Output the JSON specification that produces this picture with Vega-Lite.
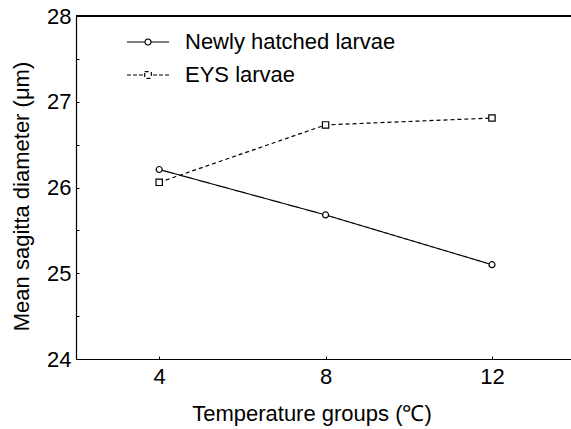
{
  "$schema": "https://vega.github.io/schema/vega-lite/v6.json",
  "width": 495,
  "height": 343,
  "autosize": "none",
  "padding": {"left": 76, "top": 16, "right": 0, "bottom": 70},
  "background": "white",
  "config": {
    "view": {"stroke": null},
    "font": "Liberation Sans",
    "axis": {
      "domainColor": "black",
      "domainWidth": 1.2,
      "tickColor": "black",
      "tickWidth": 1,
      "tickSize": -3,
      "labelColor": "black",
      "titleColor": "black",
      "labelFont": "Liberation Sans",
      "titleFont": "Liberation Sans",
      "labelFontSize": 22,
      "titleFontSize": 22,
      "titleFontWeight": "normal",
      "grid": false
    }
  },
  "data": {
    "values": [
      {"series": "Newly hatched larvae", "temp": 4, "diameter": 26.21},
      {"series": "Newly hatched larvae", "temp": 8, "diameter": 25.68},
      {"series": "Newly hatched larvae", "temp": 12, "diameter": 25.1},
      {"series": "EYS larvae", "temp": 4, "diameter": 26.06},
      {"series": "EYS larvae", "temp": 8, "diameter": 26.73},
      {"series": "EYS larvae", "temp": 12, "diameter": 26.81}
    ]
  },
  "layer": [
    {
      "mark": {"type": "line", "color": "black", "strokeWidth": 1.2},
      "encoding": {
        "x": {
          "field": "temp",
          "type": "quantitative",
          "scale": {"domain": [2, 13.9], "nice": false, "zero": false},
          "axis": {
            "values": [4, 8, 12],
            "title": "Temperature groups (℃)",
            "labelPadding": 10,
            "titleX": 235.5,
            "titleY": 61,
            "titleBaseline": "alphabetic"
          }
        },
        "y": {
          "field": "diameter",
          "type": "quantitative",
          "scale": {"domain": [24, 28], "nice": false, "zero": false},
          "axis": {
            "values": [24, 24.25, 24.5, 24.75, 25, 25.25, 25.5, 25.75, 26, 26.25, 26.5, 26.75, 27, 27.25, 27.5, 27.75, 28],
            "format": ".0f",
            "labelExpr": "datum.value % 1 === 0 ? datum.label : ''",
            "title": "Mean sagitta diameter (μm)",
            "labelPadding": 8,
            "titleX": -48,
            "titleY": 180,
            "titleBaseline": "alphabetic"
          }
        },
        "strokeDash": {
          "field": "series",
          "type": "nominal",
          "scale": {"domain": ["Newly hatched larvae", "EYS larvae"], "range": [[1, 0], [4, 3]]},
          "legend": {
            "orient": "none",
            "legendX": 50,
            "legendY": 4,
            "title": null,
            "padding": 0,
            "symbolSize": 1764,
            "symbolStrokeWidth": 1.2,
            "symbolStrokeColor": "black",
            "labelFont": "Liberation Sans",
            "labelFontSize": 22,
            "labelColor": "black",
            "labelLimit": 0,
            "labelOffset": 15,
            "rowPadding": -2.5,
            "encode": {
              "symbols": {
                "update": {
                  "shape": {"signal": "datum.value === 'EYS larvae' ? 'M-1,0L-0.81,0M-0.714,0L-0.524,0M-0.429,0L-0.238,0M0.238,0L0.429,0M0.524,0L0.714,0M0.81,0L1,0M-0.157,-0.157L0.157,-0.157L0.157,0.157L-0.157,0.157Z' : 'M-1,0L-0.143,0M0.143,0L1,0M0.143,0A0.143,0.143,0,1,1,-0.143,0A0.143,0.143,0,1,1,0.143,0Z'"},
                  "strokeDash": {"value": []},
                  "fill": {"value": "white"},
                  "stroke": {"value": "black"}
                }
              }
            }
          }
        }
      }
    },
    {
      "transform": [{"filter": "datum.series === 'Newly hatched larvae'"}],
      "mark": {"type": "point", "shape": "circle", "filled": true, "fill": "white", "stroke": "black", "strokeWidth": 1.2, "opacity": 1, "size": 36},
      "encoding": {
        "x": {"field": "temp", "type": "quantitative"},
        "y": {"field": "diameter", "type": "quantitative"}
      }
    },
    {
      "transform": [{"filter": "datum.series === 'EYS larvae'"}],
      "mark": {"type": "point", "shape": "square", "filled": true, "fill": "white", "stroke": "black", "strokeWidth": 1.2, "opacity": 1, "size": 40},
      "encoding": {
        "x": {"field": "temp", "type": "quantitative"},
        "y": {"field": "diameter", "type": "quantitative"}
      }
    },
    {
      "mark": {"type": "rule", "color": "black", "strokeWidth": 1.2},
      "encoding": {"y": {"datum": 28}}
    }
  ]
}
